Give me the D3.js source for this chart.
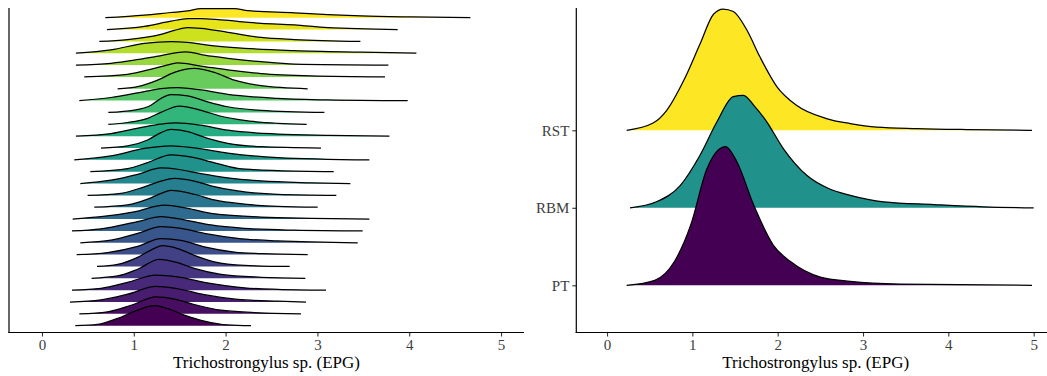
<!DOCTYPE html>
<html>
<head>
<meta charset="utf-8">
<script src="https://cdn.jsdelivr.net/npm/d3@7"></script>
<style>
  body { margin: 0; background: #fff; }
  svg { display: block; }
  text { font-family: "Liberation Serif", "DejaVu Serif", serif; }
</style>
</head>
<body>
<svg id="chart" width="1047" height="376"></svg>
<script>
// ---- data -------------------------------------------------------------
const xTicks = [0, 1, 2, 3, 4, 5];
const axisTitle = "Trichostrongylus sp. (EPG)";

// Per-group density curves, listed bottom to top: [EPG (log scale), density]
const groupRidges = [
  [[0.363,0],[0.606,0.05],[0.824,0.28],[1.042,0.60],[1.224,0.77],[1.333,0.70],[1.550,0.41],[1.768,0.18],[2.023,0.03],[2.277,0]],
  [[0.407,0],[0.715,0.08],[0.970,0.33],[1.242,0.65],[1.442,0.57],[1.659,0.36],[1.950,0.14],[2.313,0.05],[2.821,0]],
  [[0.305,0],[0.643,0.08],[0.933,0.30],[1.242,0.60],[1.478,0.51],[1.768,0.28],[2.131,0.10],[2.567,0.03],[2.876,0]],
  [[0.327,0],[0.643,0.07],[0.933,0.30],[1.242,0.58],[1.478,0.51],[1.768,0.30],[2.204,0.09],[2.567,0.03],[3.094,0]],
  [[0.541,0],[0.824,0.09],[1.042,0.35],[1.278,0.73],[1.478,0.60],[1.659,0.38],[1.950,0.15],[2.386,0.04],[2.869,0]],
  [[0.599,0],[0.824,0.08],[1.042,0.35],[1.187,0.63],[1.314,0.80],[1.478,0.69],[1.659,0.43],[1.877,0.18],[2.204,0.04],[2.698,0]],
  [[0.378,0],[0.715,0.08],[1.042,0.32],[1.296,0.62],[1.514,0.55],[1.768,0.30],[2.095,0.10],[2.386,0.04],[2.894,0]],
  [[0.418,0],[0.752,0.10],[1.042,0.36],[1.296,0.62],[1.514,0.55],[1.768,0.36],[2.131,0.17],[2.567,0.07],[3.439,0]],
  [[0.327,0],[0.643,0.08],[1.042,0.36],[1.296,0.55],[1.587,0.40],[1.841,0.23],[2.204,0.10],[2.749,0.03],[3.493,0]],
  [[0.334,0],[0.643,0.09],[1.006,0.28],[1.333,0.54],[1.587,0.41],[1.841,0.22],[2.386,0.08],[2.930,0.03],[3.566,0]],
  [[0.570,0],[0.933,0.09],[1.151,0.31],[1.296,0.53],[1.405,0.65],[1.659,0.50],[1.877,0.28],[2.204,0.12],[2.567,0.03],[3.003,0]],
  [[0.497,0],[0.861,0.08],[1.115,0.33],[1.296,0.55],[1.442,0.65],[1.659,0.55],[1.841,0.37],[2.131,0.17],[2.567,0.04],[3.206,0]],
  [[0.418,0],[0.752,0.13],[1.042,0.35],[1.296,0.60],[1.478,0.55],[1.732,0.38],[2.023,0.22],[2.386,0.10],[2.930,0.03],[3.359,0]],
  [[0.527,0],[0.933,0.12],[1.151,0.35],[1.405,0.65],[1.659,0.54],[1.841,0.38],[2.131,0.13],[2.567,0.04],[3.177,0]],
  [[0.352,0],[0.752,0.15],[1.115,0.44],[1.405,0.54],[1.659,0.46],[2.023,0.26],[2.567,0.09],[3.566,0]],
  [[0.643,0],[0.933,0.08],[1.151,0.31],[1.296,0.59],[1.405,0.72],[1.587,0.63],[1.805,0.37],[2.023,0.18],[2.386,0.05],[3.039,0]],
  [[0.370,0],[0.752,0.10],[1.115,0.36],[1.296,0.46],[1.460,0.51],[1.732,0.42],[2.023,0.23],[2.567,0.08],[3.112,0.03],[3.784,0]],
  [[0.723,0],[0.933,0.07],[1.151,0.23],[1.296,0.46],[1.496,0.70],[1.732,0.54],[1.950,0.31],[2.204,0.15],[2.567,0.04],[2.883,0]],
  [[0.723,0],[1.006,0.09],[1.187,0.28],[1.296,0.54],[1.405,0.69],[1.587,0.64],[1.805,0.41],[2.023,0.22],[2.386,0.08],[3.076,0]],
  [[0.407,0],[0.752,0.12],[1.115,0.35],[1.296,0.46],[1.478,0.50],[1.732,0.41],[2.023,0.24],[2.567,0.09],[3.112,0.03],[3.983,0]],
  [[0.824,0],[1.042,0.08],[1.260,0.33],[1.442,0.63],[1.659,0.78],[1.877,0.63],[2.095,0.33],[2.386,0.12],[2.894,0]],
  [[0.461,0],[0.933,0.10],[1.224,0.33],[1.405,0.49],[1.478,0.54],[1.732,0.42],[2.023,0.27],[2.386,0.13],[2.930,0.04],[3.736,0]],
  [[0.370,0],[0.752,0.07],[1.006,0.19],[1.224,0.32],[1.569,0.51],[1.768,0.38],[2.023,0.26],[2.386,0.13],[2.749,0.04],[3.773,0]],
  [[0.370,0],[0.752,0.13],[1.115,0.38],[1.405,0.45],[1.587,0.42],[1.805,0.31],[2.204,0.19],[2.749,0.10],[3.475,0.04],[4.078,0]],
  [[0.625,0],[0.933,0.07],[1.296,0.27],[1.442,0.42],[1.587,0.53],[1.732,0.50],[2.023,0.35],[2.386,0.15],[2.749,0.07],[3.468,0]],
  [[0.708,0],[1.115,0.12],[1.405,0.32],[1.587,0.42],[1.732,0.42],[1.950,0.37],[2.386,0.24],[2.749,0.18],[3.112,0.07],[3.874,0]],
  [[0.690,0],[1.115,0.10],[1.405,0.20],[1.587,0.26],[1.732,0.35],[2.095,0.35],[2.240,0.27],[2.749,0.19],[3.112,0.12],[3.475,0.07],[4.020,0.03],[4.666,0]]
];

// Grazing systems, bottom to top
const systems = ["PT", "RBM", "RST"];
const systemRidges = [
  [[0.23,0],[0.56,0.04],[0.79,0.19],[0.98,0.48],[1.17,0.93],[1.30,1.08],[1.39,1.11],[1.52,0.99],[1.72,0.64],[1.95,0.32],[2.15,0.19],[2.50,0.066],[2.85,0.032],[3.43,0.010],[4.98,0]],
  [[0.27,0],[0.58,0.048],[0.86,0.18],[1.09,0.42],[1.29,0.69],[1.48,0.89],[1.60,0.90],[1.72,0.82],[1.87,0.69],[2.07,0.47],[2.34,0.26],[2.61,0.15],[2.85,0.10],[3.24,0.048],[3.83,0.026],[4.41,0.008],[5.00,0]],
  [[0.23,0],[0.54,0.058],[0.70,0.16],[0.90,0.40],[1.09,0.69],[1.25,0.93],[1.36,0.97],[1.48,0.95],[1.64,0.80],[1.79,0.59],[1.99,0.35],[2.22,0.20],[2.57,0.094],[2.85,0.054],[3.16,0.026],[3.63,0.014],[4.22,0.006],[4.98,0]]
];

// ---- layout -----------------------------------------------------------
const svg = d3.select("#chart");
const viridis = d3.interpolateViridis;
const axisY = 332.5, panelTop = 8;

function ridgePanel(opts) {
  const g = svg.append("g");
  const x = d3.scaleLinear().domain(opts.xDomain).range([opts.left, opts.right]);
  const y = d3.scalePoint().domain(opts.groups).range([opts.firstBase, opts.lastBase]);
  const h = d3.scaleLinear().domain([0, 1]).range([0, opts.pxPerDensity]);

  const area = d3.area().curve(d3.curveMonotoneX)
    .x(d => x(d[0])).y0(0).y1(d => -h(d[1]));
  const line = d3.line().curve(d3.curveMonotoneX)
    .x(d => x(d[0])).y(d => -h(d[1]));

  // top groups first so lower ridges overlap them
  const order = d3.range(opts.groups.length).reverse();
  order.forEach(i => {
    const rg = g.append("g").attr("transform", `translate(0,${y(opts.groups[i])})`);
    rg.append("path").attr("d", area(opts.ridges[i]))
      .attr("fill", opts.color(i)).attr("stroke", "none");
    rg.append("path").attr("d", line(opts.ridges[i]))
      .attr("fill", "none").attr("stroke", "#000").attr("stroke-width", 1.25);
  });

  // x axis
  const xa = g.append("g").attr("transform", `translate(0,${axisY})`)
    .call(d3.axisBottom(x).tickValues(xTicks).tickFormat(d3.format("d"))
      .tickSize(4).tickPadding(3).tickSizeOuter(0));
  xa.select(".domain").remove();
  xa.selectAll(".tick line").attr("stroke", "#333").attr("stroke-width", 1.1);
  xa.selectAll(".tick text").attr("fill", "#3d3d3d").attr("font-size", 15)
    .style("font-family", '"Liberation Serif", serif');

  if (opts.yLabels) {
    const ya = g.append("g").attr("transform", `translate(${opts.left},0)`)
      .call(d3.axisLeft(y).tickSize(4).tickPadding(3).tickSizeOuter(0));
    ya.select(".domain").remove();
    ya.selectAll(".tick line").attr("stroke", "#333").attr("stroke-width", 1.1);
    ya.selectAll(".tick text").attr("fill", "#3d3d3d").attr("font-size", 15)
      .style("font-family", '"Liberation Serif", serif');
  }

  // axis lines
  g.append("line").attr("x1", opts.left).attr("x2", opts.left)
    .attr("y1", panelTop).attr("y2", axisY + 0.6)
    .attr("stroke", "#000").attr("stroke-width", 1.2);
  g.append("line").attr("x1", opts.left - 0.6).attr("x2", opts.right)
    .attr("y1", axisY).attr("y2", axisY)
    .attr("stroke", "#000").attr("stroke-width", 1.2);

  g.append("text").attr("x", (opts.left + opts.right) / 2).attr("y", 368)
    .attr("text-anchor", "middle").attr("font-size", 17).attr("fill", "#000")
    .text(axisTitle);
}

ridgePanel({
  left: 9, right: 524, xDomain: [-0.359, 5.25],
  groups: d3.range(groupRidges.length), ridges: groupRidges,
  firstBase: 325.7, lastBase: 17.7, pxPerDensity: 26,
  color: i => viridis(i / (groupRidges.length - 1)),
  yLabels: false
});

ridgePanel({
  left: 576.3, right: 1055, xDomain: [-0.36, 5.25],
  groups: systems, ridges: systemRidges,
  firstBase: 285.3, lastBase: 130.3, pxPerDensity: 125,
  color: i => viridis(i / (systems.length - 1)),
  yLabels: true
});
</script>
</body>
</html>
